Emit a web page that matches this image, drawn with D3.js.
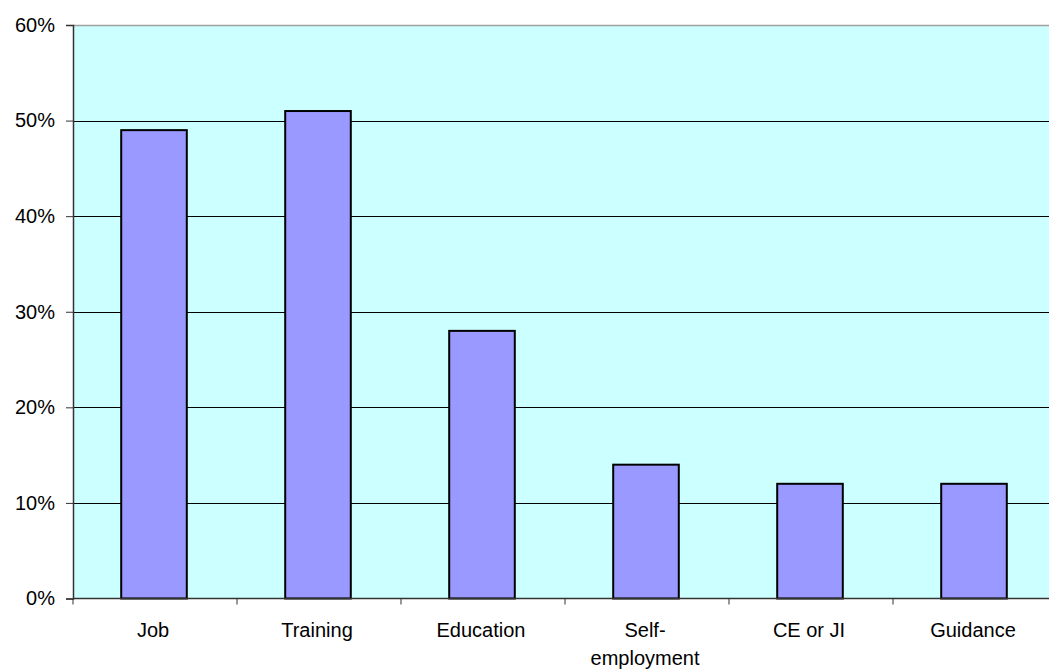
<!DOCTYPE html>
<html>
<head>
<meta charset="utf-8">
<script src="https://cdn.jsdelivr.net/npm/d3@7"></script>
<style>
  body { margin: 0; background: #fff; }
  svg text { font-family: "Liberation Sans", Arial, sans-serif; fill: #000; }
</style>
</head>
<body>
<svg id="chart" width="1049" height="672"></svg>
<script>
var categories = ["Job", "Training", "Education", "Self-\nemployment", "CE or JI", "Guidance"];
var values = [0.49, 0.51, 0.28, 0.14, 0.12, 0.12];
var yTicks = [0, 0.1, 0.2, 0.3, 0.4, 0.5, 0.6];

var plotL = 73, plotT = 25, plotR = 1057, plotB = 598.5;
var svg = d3.select('#chart');

var x = d3.scaleBand().domain(categories).range([plotL, plotR]).paddingInner(0.6).paddingOuter(0.3);
var xTick = d3.scaleBand().domain(categories).range([plotL, plotR]);
var y = d3.scaleLinear().domain([0, 0.6]).range([plotB, plotT]);

// plot background
svg.append('rect')
  .attr('x', plotL).attr('y', plotT)
  .attr('width', plotR - plotL).attr('height', plotB - plotT)
  .attr('fill', '#ccffff');
svg.append('line')
  .attr('x1', plotL).attr('x2', plotR).attr('y1', plotT + 0.5).attr('y2', plotT + 0.5)
  .attr('stroke', '#a0a0a0').attr('stroke-width', 1.5);

// gridlines
svg.append('g').selectAll('line')
  .data(yTicks.filter(function(d) { return d > 0 && d < 0.6; }))
  .enter().append('line')
  .attr('x1', plotL).attr('x2', plotR)
  .attr('y1', function(d) { return Math.round(y(d)) + 0.5; })
  .attr('y2', function(d) { return Math.round(y(d)) + 0.5; })
  .attr('stroke', '#000').attr('stroke-width', 1);

// bars
svg.append('g').selectAll('rect')
  .data(values)
  .enter().append('rect')
  .attr('x', function(d, i) { return x(categories[i]) - 1; })
  .attr('y', function(d) { return y(d); })
  .attr('width', x.bandwidth())
  .attr('height', function(d) { return plotB - y(d); })
  .attr('fill', '#9999ff')
  .attr('stroke', '#000').attr('stroke-width', 2);

// y axis
var yAxis = d3.axisLeft(y).tickValues(yTicks).tickSize(7).tickPadding(11)
  .tickFormat(d3.format('.0%'));
var yg = svg.append('g').attr('transform', 'translate(' + plotL + ',0)').call(yAxis);
yg.select('.domain').attr('stroke', '#333').attr('stroke-width', 1.5);
yg.selectAll('.tick line').attr('stroke', '#333');
yg.selectAll('.tick text').attr('font-size', 20).attr('font-family', '"Liberation Sans", Arial, sans-serif');

// x axis
var xg = svg.append('g').attr('transform', 'translate(0,' + plotB + ')');
xg.append('line').attr('x1', plotL).attr('x2', plotR).attr('y1', 0).attr('y2', 0)
  .attr('stroke', '#333').attr('stroke-width', 1.5);
xg.selectAll('.xt').data(categories).enter().append('line')
  .attr('class', 'xt')
  .attr('x1', function(d) { return xTick(d); }).attr('x2', function(d) { return xTick(d); })
  .attr('y1', 0).attr('y2', 6)
  .attr('stroke', '#333');
xg.selectAll('.xl').data(categories).enter().append('text')
  .attr('class', 'xl')
  .attr('x', function(d) { return x(d) + x.bandwidth() / 2 - 2; })
  .attr('y', 38.5)
  .attr('text-anchor', 'middle')
  .attr('font-size', 20)
  .each(function(d) {
    var lines = d.split('\n');
    var t = d3.select(this);
    lines.forEach(function(l, i) {
      t.append('tspan').attr('x', t.attr('x')).attr('dy', i === 0 ? 0 : 28).text(l);
    });
  });
</script>
</body>
</html>
